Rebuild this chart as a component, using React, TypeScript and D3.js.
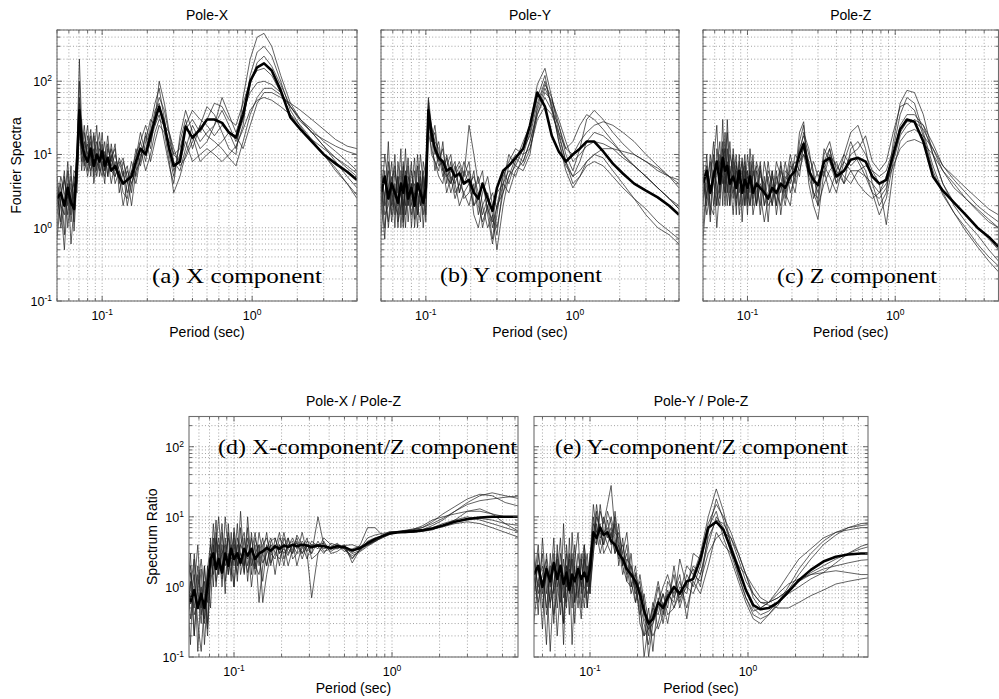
import React from "react";
import * as d3 from "d3";

// ---------- period grids (sec) ----------
const PERIOD_TOP = [0.05, 0.053, 0.056, 0.059, 0.062, 0.065, 0.068, 0.0705, 0.073, 0.076, 0.08, 0.084, 0.088, 0.092, 0.096, 0.1, 0.104, 0.109, 0.115, 0.122, 0.13, 0.138, 0.147, 0.157, 0.168, 0.18, 0.195, 0.21, 0.225, 0.24, 0.26, 0.28, 0.3, 0.33, 0.36, 0.4, 0.45, 0.5, 0.56, 0.63, 0.7, 0.78, 0.87, 0.97, 1.08, 1.2, 1.35, 1.55, 1.8, 2.1, 2.5, 3, 3.6, 4.3, 5];
const PERIOD_BOTTOM = [0.044, 0.047, 0.05, 0.053, 0.056, 0.059, 0.062, 0.065, 0.068, 0.071, 0.074, 0.077, 0.08, 0.084, 0.088, 0.092, 0.096, 0.1, 0.105, 0.11, 0.116, 0.122, 0.129, 0.136, 0.144, 0.152, 0.161, 0.171, 0.182, 0.194, 0.207, 0.22, 0.235, 0.25, 0.27, 0.29, 0.31, 0.34, 0.37, 0.41, 0.45, 0.5, 0.56, 0.63, 0.7, 0.78, 0.87, 0.97, 1.08, 1.2, 1.35, 1.55, 1.8, 2.1, 2.5, 3, 3.6, 4.3, 5.2, 6.5];

// ---------- (a) Pole-X Fourier spectra ----------
const X_MEAN = [2.5, 3, 2, 3.5, 2.2, 1.8, 8, 40, 15, 10, 8, 12, 7, 10, 8, 11, 7, 9, 6, 7, 5, 4, 4.5, 5, 8, 12, 10, 18, 30, 45, 25, 12, 7, 8, 24, 17, 22, 30, 30, 27, 20, 17, 35, 100, 155, 175, 140, 75, 32, 22, 15, 10, 7.5, 5.8, 4.5];
const X_RUNS = [
  [1.5, 4, 0.8, 6, 1.2, 3, 12, 200, 25, 8, 14, 5, 18, 6, 12, 9, 15, 5, 10, 4, 6, 3, 2.5, 6, 10, 15, 8, 25, 50, 80, 30, 10, 5, 15, 30, 12, 25, 45, 35, 20, 12, 10, 60, 200, 400, 450, 300, 120, 50, 30, 20, 13, 9, 6.5, 5],
  [3, 1.2, 5, 2, 7, 0.9, 5, 50, 10, 20, 6, 15, 9, 25, 5, 8, 4, 12, 8, 14, 3, 6, 2, 4, 6, 8, 20, 12, 35, 60, 40, 18, 8, 6, 12, 25, 15, 20, 25, 40, 25, 15, 30, 90, 180, 220, 160, 90, 45, 28, 20, 16, 13, 11, 10],
  [5, 2, 1.5, 4, 0.6, 2, 6, 25, 30, 6, 9, 18, 4, 8, 15, 6, 11, 5, 14, 6, 8, 5, 7, 3, 9, 20, 10, 15, 25, 35, 15, 7, 4, 18, 40, 20, 12, 15, 25, 60, 35, 20, 40, 70, 95, 100, 90, 70, 45, 30, 20, 13, 8, 5, 3.5],
  [0.7, 2.5, 6, 1, 3, 4, 3, 30, 8, 12, 25, 7, 12, 5, 9, 14, 6, 9, 4, 8, 5, 2, 4, 8, 5, 10, 12, 20, 40, 50, 22, 15, 10, 8, 15, 8, 10, 12, 10, 8, 10, 13, 22, 40, 55, 60, 55, 45, 35, 25, 16, 10, 6.5, 4, 2.5],
  [2, 5, 3, 1.5, 4, 1.2, 10, 60, 20, 10, 5, 10, 20, 8, 6, 12, 8, 18, 6, 5, 9, 6, 3, 5, 12, 7, 15, 30, 25, 45, 30, 12, 6, 10, 22, 30, 20, 30, 50, 45, 30, 25, 50, 100, 140, 150, 120, 70, 35, 22, 16, 12, 9, 7, 5.5],
  [3.5, 1, 2, 8, 1.5, 5, 4, 20, 12, 25, 8, 6, 10, 15, 7, 5, 10, 7, 9, 12, 4, 8, 5, 2, 6, 12, 6, 10, 20, 30, 25, 20, 12, 7, 9, 15, 25, 18, 15, 12, 9, 7, 15, 35, 60, 80, 80, 65, 45, 30, 22, 15, 11, 8, 6],
  [1, 3, 4.5, 2.5, 5, 2.5, 8, 100, 15, 7, 18, 9, 6, 12, 20, 7, 5, 14, 7, 10, 6, 4, 6, 4, 7, 15, 25, 15, 30, 100, 50, 20, 10, 12, 25, 40, 30, 25, 18, 25, 20, 12, 25, 120, 250, 300, 220, 100, 40, 24, 15, 10, 6, 4, 2.8],
  [4, 2, 0.5, 3, 2, 6, 5, 40, 6, 15, 10, 22, 5, 10, 8, 20, 6, 8, 12, 5, 7, 9, 4, 6, 4, 9, 18, 8, 15, 25, 20, 8, 3, 5, 10, 18, 8, 10, 12, 15, 20, 18, 12, 25, 50, 70, 70, 60, 50, 40, 30, 22, 16, 13, 12],
];

// ---------- (b) Pole-Y Fourier spectra ----------
const Y_MEAN = [3, 5, 2.5, 4, 3, 2.2, 4, 3, 5, 2.5, 3.5, 2, 4, 3, 2.2, 3.5, 40, 20, 12, 9, 8, 6, 6.5, 5, 5.5, 4, 4.5, 3, 2.5, 4, 2.5, 1.7, 3.5, 6, 7, 9, 12, 25, 70, 45, 18, 11, 8, 10, 12, 15, 15, 11, 7.5, 5.5, 4, 3.2, 2.6, 2, 1.5];
const Y_RUNS = [
  [8, 2, 15, 1.5, 6, 3, 12, 1.2, 4, 9, 2, 6, 1.5, 5, 1, 3, 60, 25, 10, 15, 6, 9, 4, 7, 3, 5, 8, 2, 3, 1.5, 2.5, 1, 2, 5, 8, 12, 10, 20, 60, 120, 40, 25, 10, 6, 12, 30, 40, 30, 20, 14, 10, 8, 6, 5, 4.5],
  [1.5, 6, 1, 3, 10, 1.2, 2, 7, 1.5, 3, 8, 1, 3, 10, 4, 1.5, 30, 15, 20, 8, 12, 5, 4, 6, 8, 5, 25, 10, 4, 6, 1.5, 0.6, 1.5, 6, 4, 8, 15, 25, 90, 150, 60, 20, 8, 4, 5, 7, 8, 7, 5, 3.5, 2.5, 1.8, 1.2, 0.9, 0.7],
  [4, 1, 3, 8, 1.5, 5, 1, 3, 12, 2, 4, 1.3, 7, 2, 6, 2.5, 50, 10, 8, 6, 15, 4, 8, 3, 4, 3, 2, 4, 1.5, 3, 5, 2, 1, 3, 7, 10, 8, 15, 40, 80, 50, 15, 7, 5, 8, 15, 20, 18, 14, 10, 7, 5, 3.5, 2.5, 1.8],
  [0.8, 3, 6, 2, 4, 1, 6, 2.5, 1, 5, 3, 9, 2, 1.2, 8, 5, 25, 20, 6, 10, 5, 7, 10, 4, 6, 2.5, 3, 6, 2, 1.2, 2, 3, 1.8, 4, 6, 5, 10, 12, 30, 45, 35, 20, 12, 10, 15, 20, 25, 28, 25, 20, 15, 10, 7, 5, 3.5],
  [5, 1.5, 2, 5, 1, 8, 3, 1.5, 6, 1.2, 4, 2, 10, 3, 1.5, 4, 45, 18, 12, 7, 8, 6, 3, 5, 7, 4, 6, 3, 5, 2, 1, 1.5, 0.5, 2, 5, 7, 12, 18, 50, 100, 45, 15, 6, 3.5, 5, 8, 10, 9, 6, 4, 2.5, 1.5, 1, 0.8, 0.6],
  [2, 10, 4, 1.2, 3, 5, 1.5, 8, 2, 4, 1.5, 3, 1, 6, 2, 8, 35, 25, 15, 12, 6, 5, 6, 8, 3, 6, 4, 2, 2.5, 4, 1.8, 1.2, 3, 4, 3, 6, 8, 15, 35, 70, 55, 30, 15, 8, 10, 13, 15, 14, 12, 9, 7, 5, 3.5, 2.5, 2],
  [3, 0.7, 8, 3, 2, 1.5, 4, 2, 3, 7, 1, 4, 3, 2, 5, 1.2, 20, 12, 8, 5, 4, 10, 5, 2.5, 4, 8, 5, 1.5, 1, 2, 3, 1.5, 0.8, 4, 10, 7, 6, 10, 45, 90, 60, 25, 12, 15, 25, 35, 30, 22, 15, 10, 7, 5, 3.5, 2.5, 1.8],
  [6, 2.5, 1.2, 4, 7, 2, 3, 1, 5, 2, 6, 3, 1.5, 4, 2.5, 6, 55, 15, 25, 9, 7, 3, 5, 4, 2, 3, 4, 5, 3, 1, 2, 0.7, 2, 3, 5, 9, 7, 12, 35, 60, 40, 18, 8, 5, 6, 8, 10, 12, 12, 11, 10, 8, 6.5, 5, 4],
];

// ---------- (c) Pole-Z Fourier spectra ----------
const Z_MEAN = [4, 6, 3, 5, 8, 4, 9, 6, 7, 4, 5, 3.5, 6, 3, 4.5, 3.5, 5, 3, 4, 3.5, 3, 2.5, 3.5, 3, 4, 3.5, 5, 6, 10, 14, 6, 4.5, 3.8, 8, 9, 5, 6, 8.5, 9, 8, 5, 4, 4.5, 10, 22, 30, 28, 15, 5, 3.2, 2.2, 1.5, 1, 0.75, 0.55];
const Z_RUNS = [
  [2, 10, 1.5, 8, 25, 3, 30, 4, 12, 2, 8, 1.5, 10, 2, 6, 1.5, 8, 2, 6, 1.5, 5, 1.2, 6, 2, 8, 3, 8, 4, 15, 25, 4, 2, 1.3, 6, 12, 4, 10, 20, 25, 12, 4, 2, 3, 15, 50, 75, 70, 35, 10, 4, 2.2, 1.5, 1, 0.7, 0.5],
  [8, 2, 5, 15, 2, 10, 4, 20, 3, 7, 2.5, 8, 3, 9, 2, 6, 3, 8, 2, 7, 2, 5, 2, 6, 1.5, 5, 4, 10, 8, 12, 8, 3, 2, 4, 6, 8, 4, 6, 6, 5, 3, 1.5, 2.5, 8, 18, 25, 30, 25, 14, 7, 4.5, 3, 2, 1.5, 1.2],
  [1, 4, 8, 2, 6, 15, 2, 10, 20, 3, 5, 10, 2, 5, 8, 3, 2, 6, 4, 2, 8, 4, 2, 5, 3, 8, 3, 5, 12, 18, 10, 6, 2, 10, 15, 6, 4, 12, 15, 10, 6, 5, 6, 12, 35, 60, 50, 20, 7, 3, 1.6, 0.9, 0.55, 0.35, 0.25],
  [5, 1.5, 3, 6, 1, 4, 12, 3, 5, 15, 3, 6, 1.5, 4, 10, 2.5, 6, 1.5, 3, 8, 2, 3, 6, 1.5, 4, 2, 6, 8, 6, 10, 5, 8, 5, 7, 5, 3, 8, 6, 4, 3, 2.5, 3, 4, 7, 12, 15, 16, 14, 10, 6, 4, 2.5, 1.7, 1.2, 1],
  [3, 7, 2, 1.5, 12, 6, 5, 3, 30, 5, 10, 2.5, 5, 8, 2, 5, 4, 10, 2, 4, 3, 6, 4, 2, 6, 4, 10, 5, 20, 28, 5, 3, 2.5, 12, 8, 4, 6, 10, 12, 18, 8, 6, 8, 20, 45, 50, 40, 18, 6, 2.8, 1.6, 1, 0.6, 0.4, 0.3],
  [0.7, 3, 5, 10, 3, 2, 8, 12, 4, 2, 12, 4, 8, 1.2, 5, 6, 2, 5, 7, 3, 1.2, 2.5, 5, 3, 2, 6, 5, 3, 8, 10, 7, 4, 6, 5, 10, 7, 5, 4, 6, 7, 6, 4, 1.1, 6, 15, 20, 22, 18, 12, 7, 5, 3.5, 2.5, 1.8, 1.5],
  [6, 2.5, 10, 4, 2, 8, 6, 2, 8, 5, 1.5, 7, 4, 6, 3, 10, 5, 2.5, 8, 5, 4, 2, 2.5, 8, 5, 2.5, 7, 6, 10, 20, 12, 5, 3, 8, 12, 5, 8, 15, 8, 5, 4, 3, 5, 10, 25, 35, 35, 25, 10, 4, 2, 1.2, 0.8, 0.5, 0.35],
  [2.5, 5, 1.2, 6, 4, 2.5, 15, 5, 2, 10, 6, 2, 6, 3, 7, 2, 12, 4, 2, 6, 3, 8, 3, 4, 7, 3, 2, 7, 5, 15, 8, 2.5, 4, 6, 3, 6, 10, 7, 9, 6, 3, 2.5, 3.5, 9, 20, 28, 28, 22, 12, 6, 3.5, 2.5, 1.8, 1.3, 1],
];

// ---------- (d) X / Z spectral ratio ----------
const XZ_MEAN = [1, 0.7, 1.2, 0.6, 0.9, 0.5, 0.8, 0.5, 1, 2.5, 3, 1.8, 2.5, 1.6, 3, 2, 3.5, 2.5, 3, 2.2, 3.5, 2.8, 3.5, 2.5, 3, 3.2, 3.6, 3.3, 3.8, 3.5, 3.9, 3.7, 4, 3.8, 4, 3.9, 3.7, 3.9, 3.8, 3.6, 3.8, 3.7, 3.3, 3.6, 4.2, 4.8, 5.3, 5.8, 6, 6.1, 6.2, 6.4, 6.8, 7.5, 8.5, 9.3, 9.8, 10, 10, 10];
const XZ_RUNS = [
  [0.3, 2, 0.5, 3, 0.2, 1.5, 0.4, 1.2, 0.25, 5, 1, 6, 1.5, 4, 0.8, 8, 2, 5, 1.2, 7, 1.5, 10, 2, 4, 0.6, 2, 4, 2, 5, 3, 6, 3, 4, 3, 6, 3, 0.7, 3, 4, 3.2, 3.7, 3.5, 2.5, 3.5, 4, 4.5, 5, 5.6, 6, 6.2, 6.3, 6.5, 7.5, 9, 12, 16, 20, 22, 20, 18],
  [2, 0.4, 1.5, 0.15, 3, 0.8, 0.3, 2, 0.6, 1.5, 8, 2, 4, 1, 5, 1.5, 6, 1, 4, 2, 5, 1.2, 6, 1.5, 3, 5, 2, 4, 1.5, 4, 2, 5, 3, 4.5, 2.5, 4, 3, 10, 4, 3.5, 4, 3.6, 3, 3.3, 4, 4.5, 5.3, 5.9, 6.1, 6, 6, 6.2, 6.5, 7.5, 9, 12, 13, 11, 8, 6],
  [0.8, 1.5, 0.3, 1, 2.5, 0.12, 1, 0.35, 2, 0.5, 3, 9, 1.5, 6, 2, 3, 1.2, 7, 2.5, 4, 3, 1.6, 3, 6, 2, 4, 5, 3, 2.5, 5, 4, 2, 3.5, 5, 3, 4.5, 4, 3.5, 5, 4, 3.5, 4, 2.2, 3.5, 5, 5.5, 5.8, 6, 6.2, 6.4, 6.7, 7, 8, 9.5, 12, 15, 17, 18, 19, 20],
  [1.5, 0.2, 0.9, 2, 0.4, 0.6, 1.8, 0.15, 0.8, 3, 1.5, 4, 10, 2, 3, 5, 2, 1, 5, 3, 2, 7, 1.5, 5, 3, 1.2, 3.5, 5, 3, 2.5, 3.8, 5, 2.5, 3, 3.5, 5, 2.5, 3, 4.5, 3, 3.2, 3.8, 3.1, 4, 7, 7, 5.5, 5.8, 6, 6.3, 6.4, 6.6, 7, 8, 9, 10, 9, 8, 7, 6],
  [0.5, 3, 0.25, 0.7, 1.5, 0.3, 0.12, 0.6, 1.5, 2, 5, 1, 3, 8, 1.2, 2.5, 4, 2, 8, 1.5, 3, 2.5, 5, 2, 4, 2.2, 3, 4, 3.5, 6, 2.5, 4, 4.5, 2, 4, 3.2, 4.5, 3.8, 3, 4.2, 3.9, 3.2, 3.5, 3.8, 4, 4.6, 5.5, 6.2, 6.1, 5.9, 6, 6.3, 6.7, 7.2, 8, 8.5, 8, 7, 6, 5],
  [1.2, 0.6, 2.5, 0.35, 1, 4, 0.5, 2, 0.3, 1.2, 2, 5, 2, 1.6, 10, 3, 1.5, 4, 2, 12, 2, 4, 1, 3, 4, 0.6, 1.5, 3, 4, 2, 5, 3.5, 3, 5.5, 4, 2.5, 4, 4, 3.5, 3.7, 4.2, 3.4, 2.8, 3.2, 3.8, 4.4, 5.2, 5.7, 6, 6.3, 6.5, 7, 8.5, 11, 14, 18, 21, 20, 16, 14],
  [0.25, 1, 0.15, 1.6, 0.5, 2, 0.7, 0.3, 1.8, 4, 2, 3, 5, 1.3, 2.5, 6, 2.5, 3, 1.5, 4, 6, 2, 3.5, 2, 1.5, 3, 6, 2.2, 3, 4, 3, 3.8, 5, 3.5, 4.5, 3.5, 3, 4.5, 3.2, 3.5, 3.5, 3.9, 4, 3.6, 3.9, 4.5, 5.1, 5.8, 6, 6.2, 6.3, 6.4, 6.8, 7.5, 8.5, 9, 9.5, 9, 8, 7.5],
  [3, 0.8, 0.4, 1.2, 0.2, 1, 2.5, 0.8, 0.2, 1.5, 4, 1.2, 2, 3, 4, 1.5, 3, 6, 2, 3, 1.6, 5, 2.5, 1.8, 6, 3, 2, 4.5, 5, 3, 3.5, 2.8, 4, 4.2, 3, 3.8, 3.5, 4, 4.2, 3.4, 4, 3.6, 2.6, 3.4, 4.5, 5, 5.4, 5.9, 6.1, 6.3, 6.6, 7.4, 9, 10, 11, 12, 12, 11, 10, 10],
];

// ---------- (e) Y / Z spectral ratio ----------
const YZ_MEAN = [1.5, 2, 1, 1.8, 1.2, 2.2, 1.3, 2, 1.1, 1.6, 0.9, 1.5, 1.2, 1.8, 1.3, 1.6, 1.2, 1.8, 6, 5, 7, 5.5, 6, 4.5, 4, 3, 2.5, 1.8, 1.5, 1.2, 0.8, 0.45, 0.3, 0.35, 0.6, 0.5, 0.7, 1, 0.8, 1.2, 1.3, 2.5, 7, 8.5, 6.5, 3.5, 1.8, 0.9, 0.55, 0.48, 0.5, 0.6, 0.85, 1.25, 1.75, 2.3, 2.7, 2.9, 3, 3];
const YZ_RUNS = [
  [3, 0.4, 5, 0.8, 2, 0.3, 4, 0.6, 8, 1, 3, 0.5, 2.5, 6, 0.8, 3, 0.5, 2, 10, 4, 12, 8, 15, 28, 6, 5, 2, 3, 1, 2, 0.6, 0.3, 0.15, 0.4, 1, 0.4, 1.2, 0.8, 1.5, 0.35, 1.5, 3, 10, 25, 12, 4, 1.5, 0.7, 0.4, 0.35, 0.4, 0.55, 0.9, 1.5, 2.5, 4, 5.5, 7, 8, 8.5],
  [0.8, 2, 0.25, 3, 1, 5, 0.5, 1.5, 0.3, 4, 1.2, 2.5, 0.6, 1.2, 3, 0.7, 2, 1, 3, 8, 4, 10, 5, 7, 3, 8, 2, 1.2, 3, 0.6, 1, 0.6, 0.2, 0.5, 0.4, 0.8, 0.5, 2, 0.6, 1.5, 1, 2, 7, 12, 5, 2.5, 1.2, 0.6, 0.35, 0.3, 0.4, 0.6, 1, 1.8, 3, 4.5, 6, 7, 7.5, 8],
  [1.5, 0.6, 1.2, 0.15, 3, 0.8, 1.5, 5, 0.7, 2, 0.4, 6, 1.5, 0.5, 2, 4, 1, 3, 5, 15, 6, 4, 9, 5, 10, 3, 4, 2, 0.8, 1.5, 0.3, 0.2, 0.5, 0.12, 0.7, 0.3, 0.8, 0.6, 2.5, 1, 2, 1.5, 5, 9, 8, 5, 2.5, 1.2, 0.8, 0.6, 0.6, 0.7, 0.9, 1.2, 1.6, 2, 2.5, 3, 3.5, 4],
  [2.5, 1, 3, 0.4, 0.8, 2, 0.2, 1, 2.5, 0.6, 1.8, 1, 4, 1, 0.35, 1.6, 3, 0.8, 8, 6, 3, 5, 12, 8, 4, 6, 3, 1.5, 2, 1, 0.4, 0.8, 0.3, 0.2, 0.3, 0.6, 0.3, 1, 0.7, 1, 0.8, 1.5, 4, 10, 7, 3, 1.4, 0.7, 0.45, 0.5, 0.6, 0.8, 1.1, 1.3, 1.5, 1.6, 1.7, 1.6, 1.5, 1.5],
  [0.5, 3, 0.8, 1.5, 0.12, 1.2, 2.5, 0.4, 1.5, 3, 0.8, 1.4, 0.3, 2, 1, 2.5, 0.5, 1.5, 4, 10, 7, 4, 6, 10, 5, 2.5, 3, 6, 1.5, 1, 0.5, 0.2, 0.25, 0.3, 0.5, 0.8, 0.4, 0.5, 1, 0.8, 3, 2.5, 8, 15, 10, 6, 3, 1.5, 0.8, 0.6, 0.55, 0.5, 0.5, 0.6, 0.75, 0.9, 1.1, 1.2, 1.3, 1.4],
  [1, 4, 0.5, 2, 0.6, 1, 3, 1.2, 0.3, 1.5, 2.5, 0.15, 1, 3, 1.2, 0.5, 1.5, 2.5, 15, 6, 8, 3, 4, 6, 3, 4, 1.5, 2.5, 2, 0.8, 1.2, 0.35, 0.25, 0.6, 0.25, 0.4, 0.9, 0.5, 0.8, 2, 1.5, 1.2, 3, 5, 6, 5, 3, 1.5, 0.7, 0.5, 0.6, 0.9, 1.5, 2.5, 3.5, 5, 6, 6.5, 7, 7],
  [0.3, 1.2, 2, 0.5, 1.5, 0.4, 0.8, 3, 1, 0.5, 5, 0.8, 2, 0.7, 2.5, 1, 0.8, 1.2, 5, 4, 15, 6, 7, 4, 8, 2, 5, 1.2, 1, 1.6, 0.7, 0.1, 0.3, 0.5, 1.2, 0.5, 0.6, 1.5, 0.5, 1.2, 1.8, 1, 6, 18, 9, 4, 2, 0.9, 0.5, 0.4, 0.45, 0.6, 0.8, 1, 1.3, 1.6, 2.2, 3, 3.8, 4.5],
  [4, 0.8, 1.5, 2.5, 0.5, 3, 1, 2, 0.15, 2, 1, 3, 0.6, 1.8, 0.5, 4, 1.5, 0.8, 3, 12, 5, 6, 4, 3, 12, 4, 2, 4, 1.2, 0.6, 1.5, 0.6, 0.1, 0.3, 0.6, 1, 1.5, 0.7, 1.2, 0.5, 1.2, 0.8, 2, 6, 4, 3, 2, 1.5, 1, 0.7, 0.6, 0.7, 0.9, 1.2, 1.5, 1.8, 2, 2.2, 2.4, 2.5],
];

// ---------- labels ----------
const TITLES = ["Pole-X", "Pole-Y", "Pole-Z", "Pole-X / Pole-Z", "Pole-Y / Pole-Z"];
const NOTES = ["(a) X component", "(b) Y component", "(c) Z component", "(d) X-component/Z component", "(e) Y-component/Z component"];
const X_LABEL = "Period (sec)";
const Y_LABEL_TOP = "Fourier Spectra";
const Y_LABEL_BOTTOM = "Spectrum Ratio";

const SANS = "'Liberation Sans', Arial, Helvetica, sans-serif";
const SERIF = "'Liberation Serif', 'Times New Roman', serif";

type PanelCfg = {
  id: string;
  left: number; right: number; top: number; bottom: number;
  xDomain: [number, number]; yDomain: [number, number];
  periods: number[]; runs: number[][]; mean: number[];
  title: string; note: string; noteX: number; noteY: number; noteLen: number;
  yLabel?: string; yLabelX?: number; showYTicks: boolean;
};

const PANELS: PanelCfg[] = [
  { id: "a", left: 57, right: 357, top: 30, bottom: 301, xDomain: [0.05, 5], yDomain: [0.1, 500], periods: PERIOD_TOP, runs: X_RUNS, mean: X_MEAN, title: TITLES[0], note: NOTES[0], noteX: 152, noteY: 282.5, noteLen: 170, yLabel: Y_LABEL_TOP, yLabelX: 21, showYTicks: true },
  { id: "b", left: 381, right: 679, top: 30, bottom: 301, xDomain: [0.05, 5], yDomain: [0.1, 500], periods: PERIOD_TOP, runs: Y_RUNS, mean: Y_MEAN, title: TITLES[1], note: NOTES[1], noteX: 440, noteY: 282, noteLen: 162, showYTicks: false },
  { id: "c", left: 703, right: 998.5, top: 30, bottom: 301, xDomain: [0.05, 5], yDomain: [0.1, 500], periods: PERIOD_TOP, runs: Z_RUNS, mean: Z_MEAN, title: TITLES[2], note: NOTES[2], noteX: 777, noteY: 282.5, noteLen: 160, showYTicks: false },
  { id: "d", left: 189, right: 518, top: 416.5, bottom: 657, xDomain: [0.0519, 6.27], yDomain: [0.1, 270], periods: PERIOD_BOTTOM, runs: XZ_RUNS, mean: XZ_MEAN, title: TITLES[3], note: NOTES[3], noteX: 218, noteY: 454, noteLen: 299, yLabel: Y_LABEL_BOTTOM, yLabelX: 157, showYTicks: true },
  { id: "e", left: 534, right: 868, top: 416.5, bottom: 657, xDomain: [0.0442, 5.75], yDomain: [0.1, 270], periods: PERIOD_BOTTOM, runs: YZ_RUNS, mean: YZ_MEAN, title: TITLES[4], note: NOTES[4], noteX: 555, noteY: 454, noteLen: 293, showYTicks: false },
];

const isDecade = (v: number) => Math.abs(Math.log10(v) - Math.round(Math.log10(v))) < 1e-6;

function Panel({ cfg }: { cfg: PanelCfg }) {
  const x = d3.scaleLog().domain(cfg.xDomain).range([cfg.left, cfg.right]);
  const y = d3.scaleLog().domain(cfg.yDomain).range([cfg.bottom, cfg.top]);
  const xt = x.ticks().filter((v) => v >= cfg.xDomain[0] && v <= cfg.xDomain[1]);
  const yt = y.ticks().filter((v) => v >= cfg.yDomain[0] && v <= cfg.yDomain[1]);
  const pts = (vals: number[]) => {
    const n = Math.min(vals.length, cfg.periods.length);
    const out: [number, number][] = [];
    for (let i = 0; i < n; i++) out.push([cfg.periods[i], vals[i]]);
    return out;
  };
  const line = d3
    .line<[number, number]>()
    .defined((d) => d[1] > 0)
    .x((d) => x(d[0]))
    .y((d) => y(d[1]));
  const clipId = `clip-${cfg.id}`;
  const w = cfg.right - cfg.left;
  const h = cfg.bottom - cfg.top;
  const cx = (cfg.left + cfg.right) / 2;
  const cy = (cfg.top + cfg.bottom) / 2;
  const gridStyle = { stroke: "#8a8a8a", strokeWidth: 0.8, strokeDasharray: "1,2.2" };
  return (
    <g>
      <defs>
        <clipPath id={clipId}>
          <rect x={cfg.left} y={cfg.top} width={w} height={h} />
        </clipPath>
      </defs>
      <rect x={cfg.left} y={cfg.top} width={w} height={h} fill="#fff" />
      {xt.map((v, i) => (
        <line key={`gx${i}`} x1={x(v)} x2={x(v)} y1={cfg.top} y2={cfg.bottom} style={gridStyle} />
      ))}
      {yt.map((v, i) => (
        <line key={`gy${i}`} x1={cfg.left} x2={cfg.right} y1={y(v)} y2={y(v)} style={gridStyle} />
      ))}
      <g clipPath={`url(#${clipId})`}>
        {cfg.runs.map((r, i) => (
          <path key={`r${i}`} d={line(pts(r)) || ""} fill="none" stroke="#1e1e1e" strokeWidth={0.7} strokeLinejoin="round" />
        ))}
        <path d={line(pts(cfg.mean)) || ""} fill="none" stroke="#000" strokeWidth={2.6} strokeLinejoin="round" />
      </g>
      <text
        x={cfg.noteX}
        y={cfg.noteY}
        fontFamily={SERIF}
        fontSize={22}
        textLength={cfg.noteLen}
        lengthAdjust="spacingAndGlyphs"
        fill="#000"
      >
        {cfg.note}
      </text>
      {/* ticks */}
      {xt.map((v, i) => {
        const len = isDecade(v) ? 5 : 3;
        return (
          <g key={`tx${i}`} stroke="#444" strokeWidth={0.8}>
            <line x1={x(v)} x2={x(v)} y1={cfg.bottom} y2={cfg.bottom - len} />
            <line x1={x(v)} x2={x(v)} y1={cfg.top} y2={cfg.top + len} />
          </g>
        );
      })}
      {yt.map((v, i) => {
        const len = isDecade(v) ? 5 : 3;
        return (
          <g key={`ty${i}`} stroke="#444" strokeWidth={0.8}>
            <line x1={cfg.left} x2={cfg.left + len} y1={y(v)} y2={y(v)} />
            <line x1={cfg.right} x2={cfg.right - len} y1={y(v)} y2={y(v)} />
          </g>
        );
      })}
      <rect x={cfg.left} y={cfg.top} width={w} height={h} fill="none" stroke="#6e6e6e" strokeWidth={1.1} />
      {/* tick labels */}
      {xt.filter(isDecade).map((v, i) => (
        <text key={`lx${i}`} x={x(v)} y={cfg.bottom + 19} textAnchor="middle" fontFamily={SANS} fontSize={12.5} fill="#000">
          10<tspan dy={-5} fontSize={8.5}>{Math.round(Math.log10(v))}</tspan>
        </text>
      ))}
      {cfg.showYTicks &&
        yt.filter(isDecade).map((v, i) => (
          <text key={`ly${i}`} x={cfg.left - 5} y={y(v) + 5} textAnchor="end" fontFamily={SANS} fontSize={12.5} fill="#000">
            10<tspan dy={-5} fontSize={8.5}>{Math.round(Math.log10(v))}</tspan>
          </text>
        ))}
      <text x={cx} y={cfg.top - 10.5} textAnchor="middle" fontFamily={SANS} fontSize={14} fill="#000">
        {cfg.title}
      </text>
      <text x={cx} y={cfg.bottom + 36} textAnchor="middle" fontFamily={SANS} fontSize={14} fill="#000">
        {X_LABEL}
      </text>
      {cfg.yLabel && (
        <text
          transform={`translate(${cfg.yLabelX},${cy}) rotate(-90)`}
          textAnchor="middle"
          fontFamily={SANS}
          fontSize={14}
          fill="#000"
        >
          {cfg.yLabel}
        </text>
      )}
    </g>
  );
}

export default function App() {
  return (
    <svg
      width={999}
      height={699}
      viewBox="0 0 999 699"
      style={{ position: "absolute", left: 0, top: 0, background: "#fff", display: "block" }}
    >
      <rect x={0} y={0} width={999} height={699} fill="#fff" />
      {PANELS.map((p) => (
        <Panel key={p.id} cfg={p} />
      ))}
    </svg>
  );
}
